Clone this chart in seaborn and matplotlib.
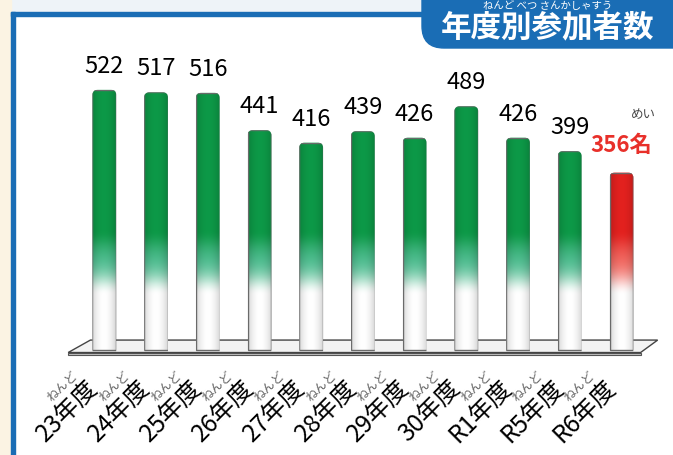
import numpy as np
import pandas as pd
import seaborn as sns
import matplotlib.pyplot as plt
from matplotlib.patches import Polygon, Rectangle, FancyBboxPatch
from matplotlib.transforms import ScaledTranslation, IdentityTransform, blended_transform_factory

# data
years = ['23', '24', '25', '26', '27', '28', '29', '30', 'R1', 'R5', 'R6']
counts = [522, 517, 516, 441, 416, 439, 426, 489, 426, 399, 356]
tick_labels = [y + '年度' for y in years]
tick_ruby = 'ねんど'
unit = '名'
unit_ruby = 'めい'
title = '年度別参加者数'
title_ruby = 'ねんど べつ さんかしゃすう'

W, H = 673, 455
BLUE = '#1a6db5'

sns.set_theme(style='white')
plt.rcParams['font.family'] = ['Noto Sans CJK JP', 'DejaVu Sans']

fig = plt.figure(figsize=(W / 100, H / 100), dpi=100)
fig.patch.set_facecolor('#eef3f8')
ident = IdentityTransform()

# background / frame (pixel coords from top-left)
def rect(x, y, w, h, **kw):
    fig.add_artist(Rectangle((x, H - y - h), w, h, transform=ident, **kw))

rect(0, 0, 11, H, color='#fbf3e3', zorder=-3)
rect(15, 16, W - 15, H - 16, color='white', zorder=-3)
rect(11, 12, 4, H - 12, color=BLUE, zorder=-2)
rect(11, 12, 430, 4, color=BLUE, zorder=-2)
fig.add_artist(FancyBboxPatch((422, H - 48), 320, 90, boxstyle='round,pad=0,rounding_size=22',
                              transform=ident, color=BLUE, zorder=-1))
fig.text(548 / W, 1 - 27 / H, title, color='white', fontsize=22, fontweight='bold',
         ha='center', va='center')
fig.text(548 / W, 1 - 6 / H, title_ruby, color='white', fontsize=7.5, ha='center', va='center')

ax = fig.add_axes([63 / W, 95 / H, 605 / W, 309 / H])
ax.set_facecolor('none')

df = pd.DataFrame({'年度': tick_labels, '人数': counts})
sns.barplot(data=df, x='年度', y='人数', ax=ax, width=0.46, color='white', zorder=3)

# floor
ax.add_patch(Polygon([(-0.7, -9), (10.37, -9), (10.37, -5), (-0.7, -5)],
                     closed=True, facecolor='#c4c4c4', edgecolor='#555555', lw=0.8, zorder=1))
ax.add_patch(Polygon([(-0.7, -5), (10.37, -5), (10.7, 20), (-0.27, 20)],
                     closed=True, facecolor='#f3f3f3', edgecolor='#444444', lw=1.0, zorder=1))

green = np.array([0.05, 0.60, 0.28])
teal = np.array([0.15, 0.70, 0.52])
red = np.array([0.89, 0.13, 0.12])
red_mid = np.array([0.95, 0.30, 0.25])

for i, p in enumerate(ax.patches[:len(counts)]):
    x0, w, h = p.get_x(), p.get_width(), p.get_height()
    top = red if i == len(counts) - 1 else green
    mid = red_mid if i == len(counts) - 1 else teal
    v = np.linspace(0, h, 300)
    f = np.clip((v - 110) / 130, 0, 1)
    f = f * f * (3 - 2 * f)
    m = 4 * f * (1 - f)
    col = (1 - f)[:, None] * 1.0 + f[:, None] * top
    col = col * (1 - 0.5 * m[:, None]) + 0.5 * m[:, None] * mid
    xs = np.linspace(0, 1, 40)
    shade = 0.74 + 0.26 * np.sin(np.pi * (0.08 + 0.84 * xs)) ** 0.7
    img = col[:, None, :] * shade[None, :, None]
    im = ax.imshow(np.clip(img, 0, 1), extent=[x0, x0 + w, 0, h], origin='lower',
                   aspect='auto', zorder=2, interpolation='bilinear')
    # rounded top for the bar
    rounded = FancyBboxPatch((x0, -12), w, h + 12, boxstyle='round,pad=0,rounding_size=0.1',
                             mutation_aspect=100, transform=ax.transData)
    im.set_clip_path(rounded)
    p.set_clip_path(rounded)
    p.set_facecolor('none')
    p.set_edgecolor('#6a6a6a')
    p.set_linewidth(1.0)

# value labels
for i, c in enumerate(counts):
    if i == len(counts) - 1:
        ax.text(i, c + 42, f'{c}{unit}', ha='center', va='baseline', fontsize=16,
                fontweight='bold', color='#e8302a')
        ax.annotate(unit_ruby, xy=(i, c + 42), xytext=(16, 27), textcoords='offset points',
                    ha='center', va='center', fontsize=9, color='#444444')
    else:
        ax.text(i, c + 34, str(c), ha='center', va='baseline', fontsize=17, color='black')

ax.set_xlim(-0.8, 10.9)
ax.set_ylim(-20, 600)
ax.set_xlabel('')
ax.set_ylabel('')
ax.set_yticks([])
sns.despine(ax=ax, left=True, bottom=True)
ax.tick_params(axis='x', length=0, pad=0)
ax.set_xticks(range(len(tick_labels)))
ax.set_xticklabels(tick_labels, rotation=45, ha='right', va='top', rotation_mode='anchor',
                   fontsize=17.5, color='black')
off = ScaledTranslation(-19 / 100, -15 / 100, fig.dpi_scale_trans)
for lab in ax.get_xticklabels():
    lab.set_transform(lab.get_transform() + off)

bt = blended_transform_factory(ax.transData, ax.transAxes)
for i in range(len(tick_labels)):
    ax.annotate(tick_ruby, xy=(i, 0), xycoords=bt,
                xytext=((-19 - 5) * 0.72, (-15 - 2.5) * 0.72), textcoords='offset points',
                rotation=45, rotation_mode='anchor', ha='right', va='bottom',
                fontsize=9, color='#666666')

fig.savefig('out.png', dpi=100)
